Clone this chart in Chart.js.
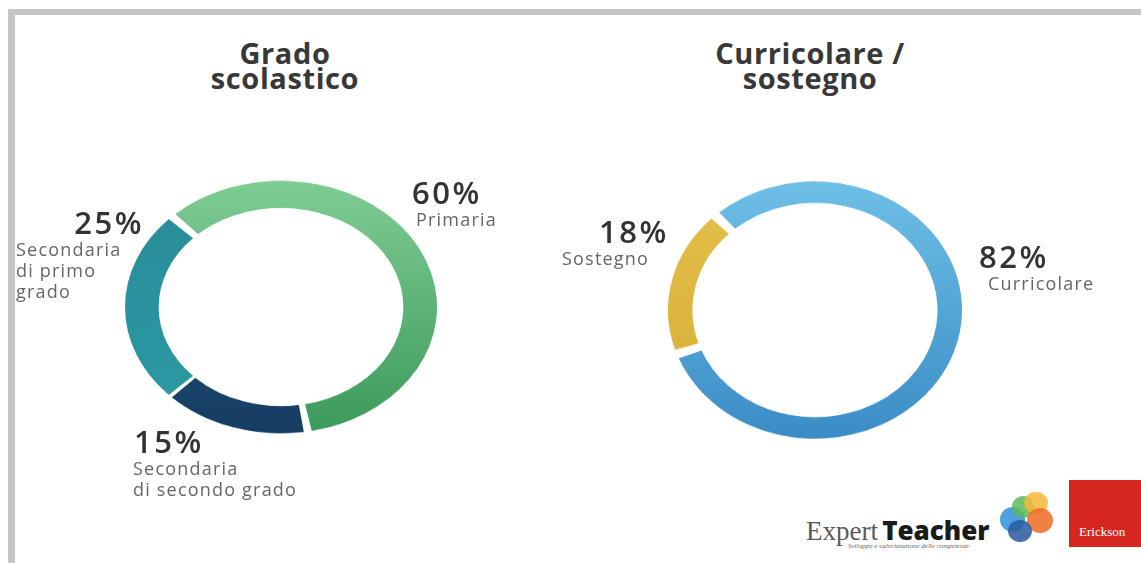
<!DOCTYPE html>
<html lang="it">
<head>
<meta charset="utf-8">
<title>Grado scolastico / Curricolare - sostegno</title>
<script src="https://cdn.jsdelivr.net/npm/chart.js@4.4.1/dist/chart.umd.min.js"></script>
<style>
  html, body { margin: 0; padding: 0; background: #fff; }
  body { width: 1141px; height: 563px; position: relative; overflow: hidden; font-family: "Open Sans", sans-serif; }
  .frame-top { position: absolute; left: 8px; top: 9px; width: 1133px; height: 6px; background: #c6c6c6; }
  .frame-left { position: absolute; left: 8px; top: 9px; width: 7px; height: 554px; background: #c6c6c6; }
  .title { position: absolute; width: 300px; text-align: center; font-weight: 700; font-size: 29px; line-height: 25px; letter-spacing: 0.6px; color: #383838; }
  .ring { position: absolute; width: 340px; height: 340px; }
  .pct { position: absolute; font-weight: 600; font-size: 31px; line-height: 32px; color: #333; letter-spacing: 2.5px; white-space: nowrap; }
  .lbl { position: absolute; font-size: 18px; line-height: 21px; color: #666; letter-spacing: 1.2px; white-space: nowrap; }
  .logo-text { position: absolute; left: 806px; top: 512px; white-space: nowrap; }
  .logo-text .ex { font-family: "Liberation Serif", serif; font-size: 27px; color: #5a5a5a; }
  .logo-text .te { font-family: "Open Sans", sans-serif; font-weight: 800; font-size: 26px; color: #1a1a1a; }
  .logo-sub { position: absolute; left: 848px; top: 542px; font-family: "Liberation Serif", serif; font-style: italic; font-size: 7px; color: #666; }
  .dot { position: absolute; border-radius: 50%; opacity: 0.85; }
  .erickson { position: absolute; left: 1069px; top: 480px; width: 72px; height: 67px; background: #d5261f; }
  .erickson span { position: absolute; left: 10px; top: 44px; font-family: "Liberation Serif", serif; font-size: 13px; color: #fff; }
</style>
</head>
<body>
<div class="frame-top"></div>
<div class="frame-left"></div>

<div class="title" id="title1" style="left:135px; top:40px;"></div>
<div class="title" id="title2" style="left:660px; top:40px;"></div>

<div class="ring" id="wrap1"><canvas id="grado" width="340" height="340"></canvas></div>
<div class="ring" id="wrap2"><canvas id="ruolo" width="340" height="340"></canvas></div>

<div id="labels"></div>

<div class="logo-text"><span class="ex">Expert</span> <span class="te">Teacher</span></div>
<div class="logo-sub">Sviluppo e valorizzazione delle competenze</div>
<div class="dot" style="left:1000px; top:507px; width:25px; height:25px; background:#2f8fd8;"></div>
<div class="dot" style="left:1012px; top:496px; width:22px; height:22px; background:#5cb85c;"></div>
<div class="dot" style="left:1024px; top:492px; width:24px; height:22px; background:#f4b73a;"></div>
<div class="dot" style="left:1027px; top:508px; width:26px; height:25px; background:#ef6a22;"></div>
<div class="dot" style="left:1008px; top:520px; width:24px; height:22px; background:#28599e;"></div>
<div class="erickson"><span>Erickson</span></div>

<script>
// titoli
const title1 = ['Grado', 'scolastico'];
const title2 = ['Curricolare /', 'sostegno'];

// grado scolastico
const gradoLabels = ['Primaria', 'Secondaria di secondo grado', 'Secondaria di primo grado'];
const gradoValues = [60, 15, 25];
const gradoLines = [['Primaria'], ['Secondaria', 'di secondo grado'], ['Secondaria', 'di primo', 'grado']];

// curricolare / sostegno
const ruoloLabels = ['Curricolare', 'Sostegno'];
const ruoloValues = [82, 18];
const ruoloLines = [['Curricolare'], ['Sostegno']];

document.getElementById('title1').innerHTML = title1.join('<br>');
document.getElementById('title2').innerHTML = title2.join('<br>');

// ring geometry (center, vertical squash)
function placeRing(id, cx, cy, sy) {
  const el = document.getElementById(id);
  el.style.left = (cx - 170) + 'px';
  el.style.top = (cy - 170) + 'px';
  el.style.transform = 'scaleY(' + sy + ')';
}
placeRing('wrap1', 281, 307, 0.81);
placeRing('wrap2', 815, 310, 0.875);

// vertical watercolor-like gradient per slice: stops = [[top, bottom], ...]
function gradFill(stops) {
  return (context) => {
    const pair = stops[context.dataIndex % stops.length];
    const area = context.chart.chartArea;
    if (!area) return pair[1];
    const g = context.chart.ctx.createLinearGradient(0, area.top + 16, 0, area.bottom - 16);
    g.addColorStop(0, pair[0]);
    g.addColorStop(1, pair[1]);
    return g;
  };
}

function makeRing(canvasId, labels, values, stops, radius, cutout, rotation) {
  return new Chart(document.getElementById(canvasId), {
    type: 'doughnut',
    data: {
      labels: labels,
      datasets: [{
        data: values,
        backgroundColor: gradFill(stops),
        borderWidth: 0,
        spacing: 6,
      }]
    },
    options: {
      responsive: false,
      animation: false,
      radius: radius,
      cutout: cutout,
      rotation: rotation,
      layout: { padding: 0 },
      plugins: {
        legend: { display: false },
        tooltip: { enabled: false },
      }
    }
  });
}

makeRing('grado', gradoLabels, gradoValues,
  [['#7fcc95', '#3c9a5b'], ['#1f5c85', '#173d62'], ['#2a8a98', '#2b9ba4']],
  153, '78%', -45);

makeRing('ruolo', ruoloLabels, ruoloValues,
  [['#6fc1e8', '#3a8bc5'], ['#e4c04a', '#d6ad36']],
  144, '83%', -44);

// label blocks
const labelsEl = document.getElementById('labels');
function addLabel(value, lines, x, y, pctAlign, pctX) {
  const p = document.createElement('div');
  p.className = 'pct';
  p.textContent = value + '%';
  if (pctAlign === 'right') { p.style.right = (1141 - pctX) + 'px'; } else { p.style.left = pctX + 'px'; }
  p.style.top = y + 'px';
  labelsEl.appendChild(p);
  const l = document.createElement('div');
  l.className = 'lbl';
  l.innerHTML = lines.join('<br>');
  l.style.left = x + 'px';
  l.style.top = (y + 33) + 'px';
  labelsEl.appendChild(l);
}
addLabel(gradoValues[0], gradoLines[0], 416, 176, 'left', 412);
addLabel(gradoValues[1], gradoLines[1], 133, 425, 'left', 134);
addLabel(gradoValues[2], gradoLines[2], 16, 206, 'right', 144);
addLabel(ruoloValues[0], ruoloLines[0], 988, 240, 'left', 979);
addLabel(ruoloValues[1], ruoloLines[1], 562, 215, 'left', 599);
</script>
</body>
</html>
